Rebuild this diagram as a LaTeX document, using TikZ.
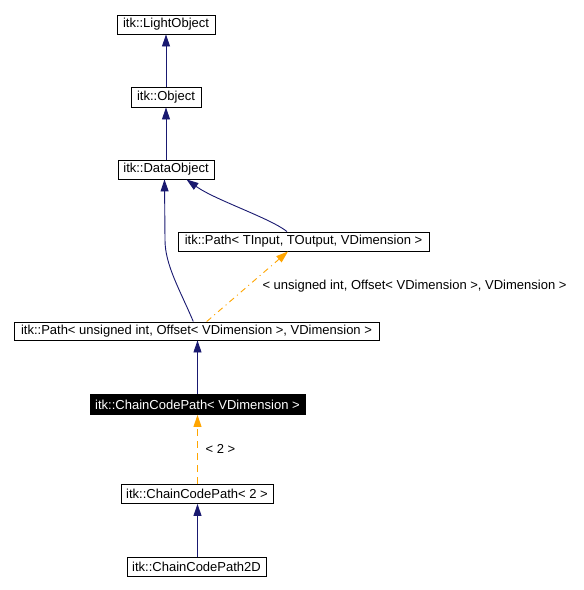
\documentclass[tikz,border=0pt]{standalone}
\usepackage{fontspec}
\setmainfont{Liberation Sans}
\usetikzlibrary{arrows.meta}
\definecolor{navy}{HTML}{191970}
\definecolor{orng}{HTML}{FFA500}
\tikzset{
  cls/.style={draw=black, line width=0.9pt, inner sep=0pt, minimum height=19pt, font=\fontsize{13}{15}\selectfont},
  cur/.style={cls, fill=black, text=white},
  inh/.style={draw=navy, line width=0.9pt, -{Triangle[length=12pt,width=8pt]}},
  tpl/.style={draw=orng, line width=0.9pt, dash pattern=on 7pt off 5pt, -{Triangle[length=12pt,width=8pt]}},
  lbl/.style={inner sep=0pt, font=\fontsize{13}{15}\selectfont}
}
\begin{document}
\begin{tikzpicture}[x=1pt,y=-1pt]
\useasboundingbox (0,0) rectangle (584,590);
\node[cls, minimum width=98pt] (light) at (166,24.5) {itk::LightObject};
\node[cls, minimum width=70pt, minimum height=20pt] (obj) at (166,97) {itk::Object};
\node[cls, minimum width=96pt] (dobj) at (166,169.5) {itk::DataObject};
\node[cls, minimum width=251pt] (patht) at (303.5,241.5) {itk::Path< TInput, TOutput, VDimension >};
\node[cls, minimum width=365pt, minimum height=18pt] (pathu) at (196.5,331) {itk::Path< unsigned int, Offset< VDimension >, VDimension >};
\node[cur, minimum width=215pt, minimum height=20pt] (ccp) at (197.5,404.5) {itk::ChainCodePath< VDimension >};
\node[cls, minimum width=152pt] (ccp2) at (197,494) {itk::ChainCodePath< 2 >};
\node[cls, minimum width=139pt] (ccp2d) at (196.5,566.5) {itk::ChainCodePath2D};
\node[lbl] (l1) at (414.5,286.5) {< unsigned int, Offset< VDimension >, VDimension >};
\node[lbl] (l2) at (220.5,449) {< 2 >};

\draw[inh] (obj.north) -- (light.south);
\draw[inh] (dobj.north) -- (obj.south);
\draw[inh] ([xshift=-3.2pt]pathu.north) .. controls (180,290) and (165,265) .. (165,240) -- ([xshift=-1.5pt]dobj.south);
\draw[inh] ([xshift=-16.5pt]patht.north) .. controls (270,218) and (215,200) .. ([xshift=20.5pt]dobj.south);
\draw[tpl, dash pattern=on 6pt off 4pt on 1pt off 4pt] ([xshift=10.2pt]pathu.north) -- ([xshift=-15.5pt]patht.south);
\draw[inh] (ccp.north) -- (ccp.north |- pathu.south);
\draw[tpl] (ccp2.north -| ccp.south) -- (ccp.south);
\draw[inh] (ccp2d.north -| ccp.south) -- (ccp.south |- ccp2.south);
\end{tikzpicture}
\end{document}
